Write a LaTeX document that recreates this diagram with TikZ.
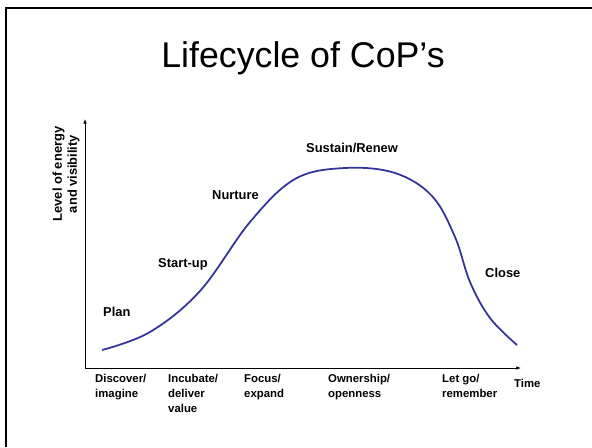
\documentclass[tikz,border=0pt]{standalone}
\usepackage{fontspec}
\setmainfont{Liberation Sans}
\usetikzlibrary{arrows.meta,positioning}

\definecolor{curveblue}{RGB}{51,51,153}

\begin{document}
\begin{tikzpicture}[x=0.03cm,y=-0.03cm,{stage/.style={font=\bfseries\fontsize{11}{13}\selectfont,inner sep=0pt,anchor=west}},{phase/.style={font=\bfseries\fontsize{9.7}{12.8}\selectfont,align=left,inner sep=0pt,anchor=north west}},{axisst/.style={black,line width=0.6pt,-{Latex[length=4pt,width=3pt]}}}]
		\useasboundingbox (0,0) rectangle (592,447);
		%%frame
		\draw [line width=2.2pt] (6,447) -- (6,8) -- (592,8);
		%%title
		\node (title) at (303,58) {\fontsize{30.5}{36}\selectfont Lifecycle of CoP’s};
		%axes
		\coordinate (origin) at (85,368);
		\coordinate (ytop) at (85,119);
		\coordinate (xend) at (521,368);
		\draw [axisst] (origin) -- (ytop);
		\draw [axisst] (origin) -- (xend);
		\node (ylabel) at (66,174) [rotate=90,align=center,inner sep=0pt,font=\bfseries\fontsize{11}{12.8}\selectfont] {Level of energy\\and visibility};
		\node (time) at (514,383) [stage,font=\bfseries\fontsize{9.7}{12.8}\selectfont] {Time};
		%%phases
		\node (discover) at (95,374) [phase] {Discover/\\imagine};
		\node (incubate) at (168,374) [phase] {Incubate/\\deliver\\value};
		\node (focus) at (244,374) [phase] {Focus/\\expand};
		\node (ownership) at (328,374) [phase] {Ownership/\\openness};
		\node (letgo) at (442,374) [phase] {Let go/\\remember};
		%%stages
		\node (plan) at (103,312) [stage] {Plan};
		\node (startup) at (158,264) [stage] {Start-up};
		\node (nurture) at (212,195) [stage] {Nurture};
		\node (sustain) at (306,148) [stage] {Sustain/Renew};
		\node (close) at (485,273) [stage] {Close};
		%%curve
		\draw [curveblue,line width=1.5pt] plot [smooth,tension=0.6] coordinates {(102,350) (150,332) (200,291) (250,222) (295,179) (345,168) (395,173) (432,196) (455,237) (470,282) (490,318) (517,345)};
	\end{tikzpicture}
\end{document}
